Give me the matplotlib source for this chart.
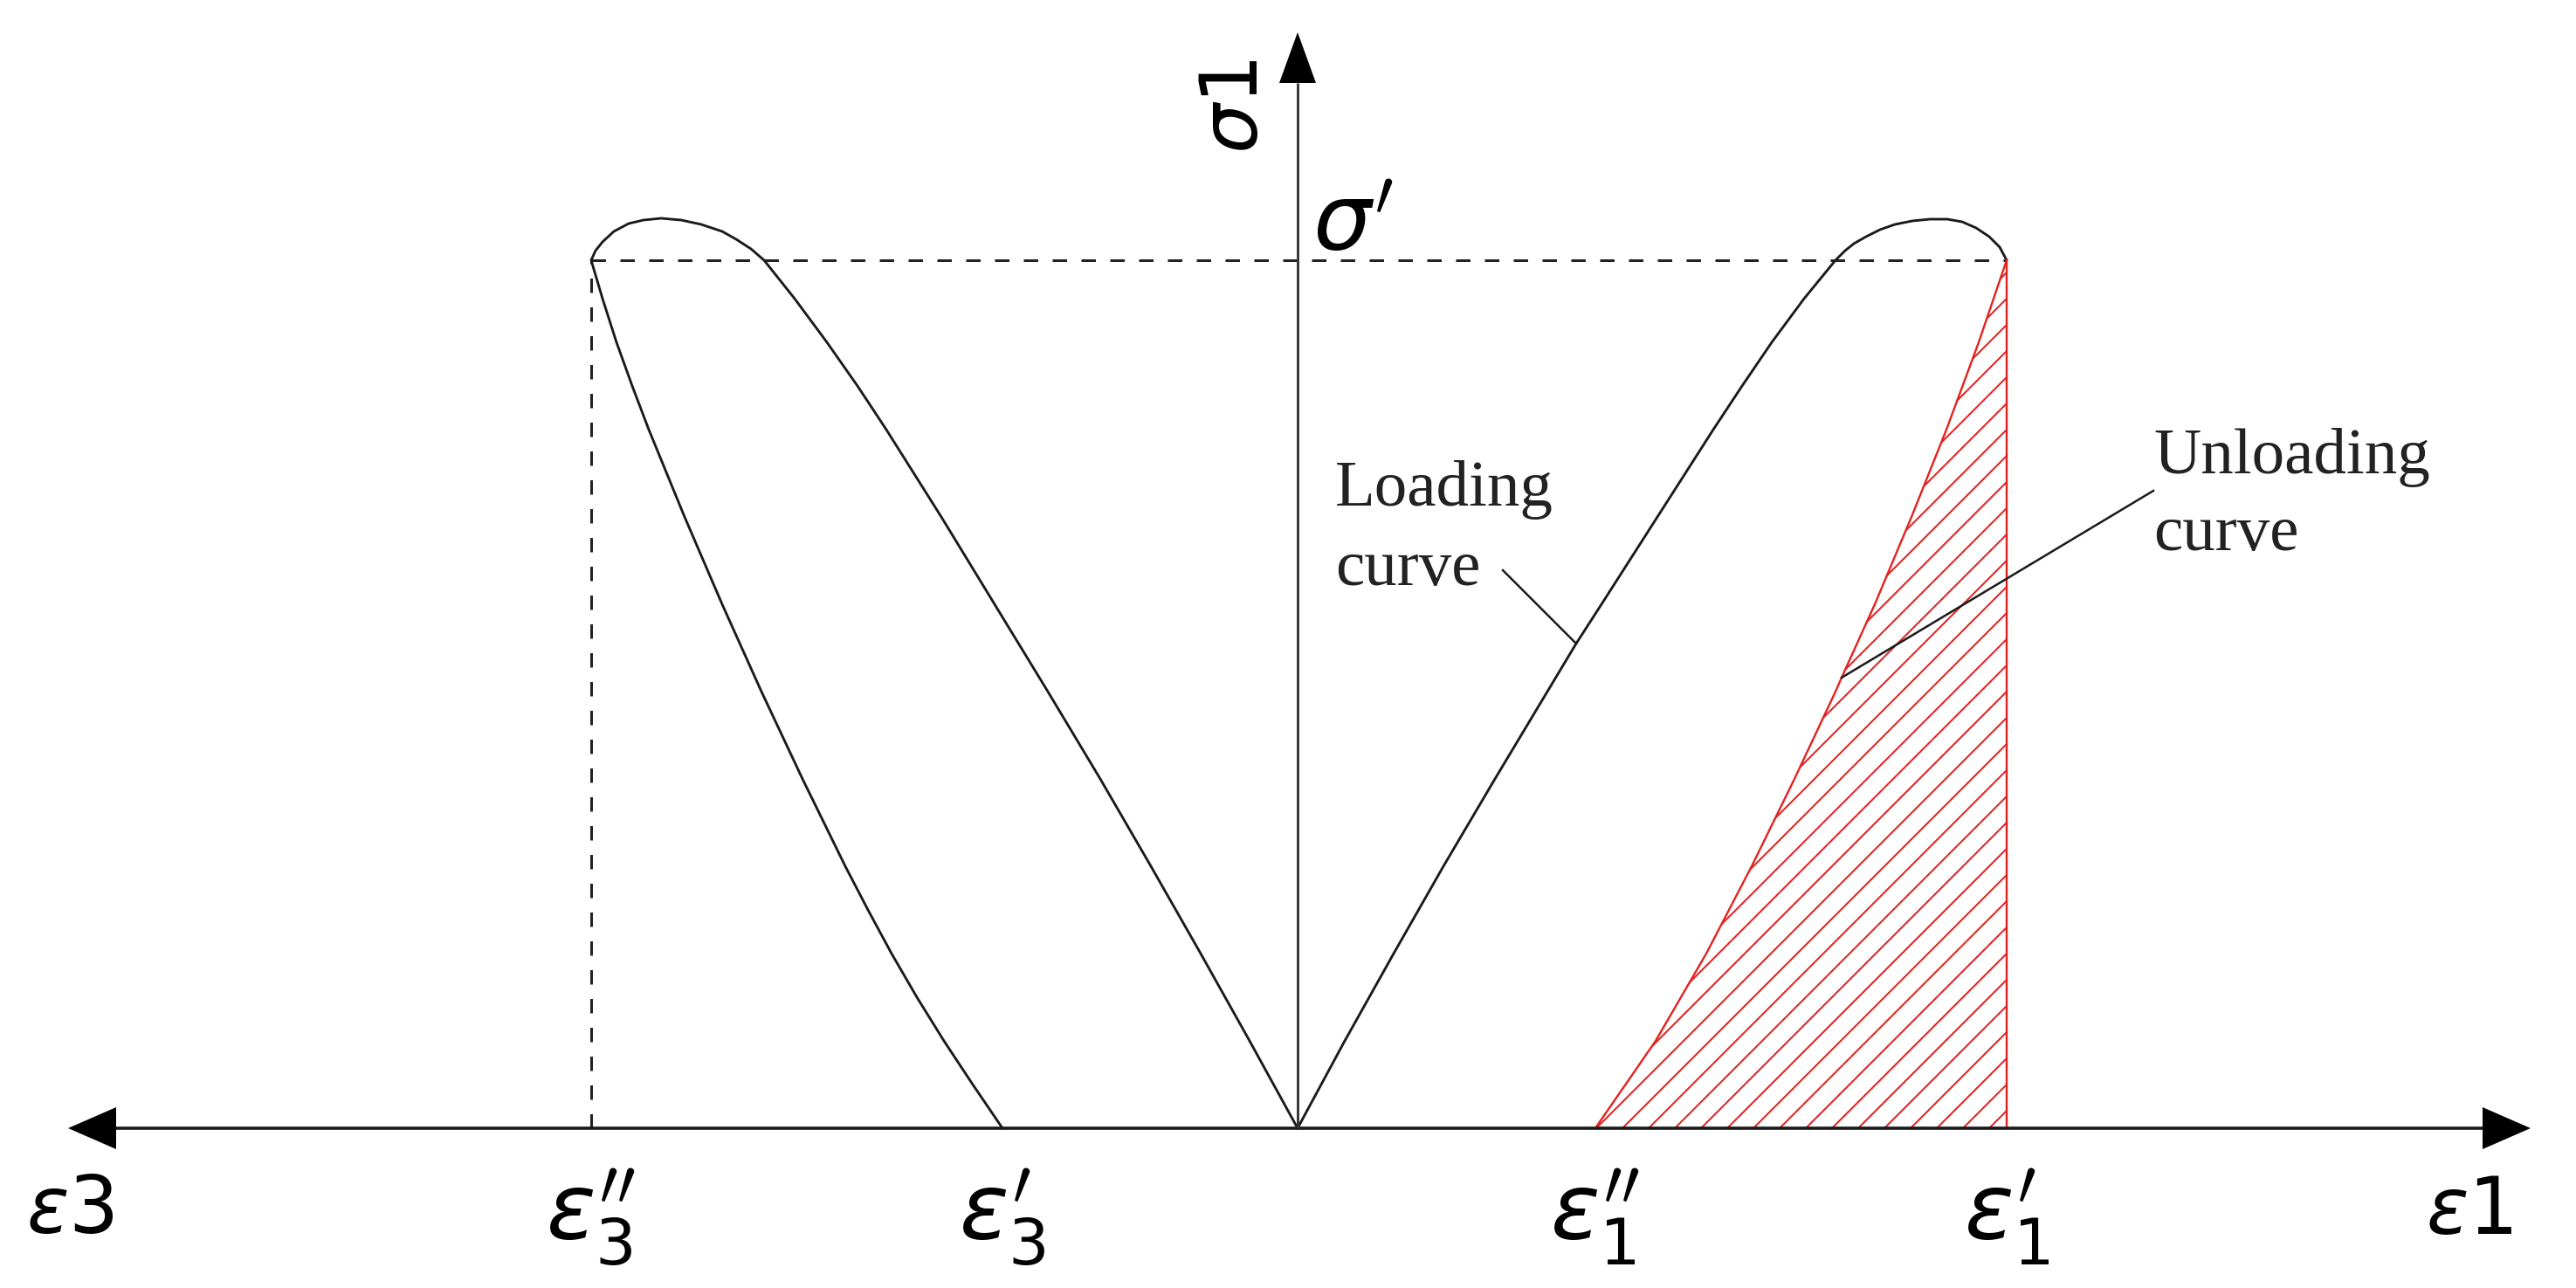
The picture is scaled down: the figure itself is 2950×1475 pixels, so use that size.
"""Schematic of loading / unloading stress-strain curves (sigma1 vs eps1, eps3)
with the hatched elastic-energy area under the unloading branch."""
import matplotlib
matplotlib.use('Agg')
import matplotlib.pyplot as plt

# Readings from the figure, origin at the crossing of the axes.
# x = strain (eps1 to the right, eps3 to the left), y = sigma1; 1 unit = 100 px.
SIGMA_P = 9.94     # sigma'
EPS1_P = 8.12      # eps1'
EPS1_PP = 3.41     # eps1''
EPS3_P = -3.38     # eps3'
EPS3_PP = -8.09    # eps3''

# eps1 side: loading curve from the origin, over the peak, down to (eps1', sigma')
LOAD1_X = [0.00, 0.54, 1.10, 1.67, 2.26, 2.86, 3.19, 3.48, 4.12, 4.76, 5.09,
           5.43, 5.80, 6.16, 6.27, 6.37, 6.51, 6.67, 6.84, 7.04, 7.24, 7.44,
           7.61, 7.77, 7.92, 8.04, 8.12]
LOAD1_Y = [0.00, 1.00, 2.00, 3.00, 4.00, 5.00, 5.55, 6.00, 7.00, 8.00, 8.50,
           9.00, 9.50, 9.94, 10.05, 10.13, 10.21, 10.29, 10.35, 10.39, 10.41,
           10.41, 10.38, 10.31, 10.21, 10.09, 9.94]

# eps1 side: unloading curve from (eps1', sigma') down to eps1''
UNLOAD1_X = [8.12, 7.80, 7.43, 7.03, 6.61, 6.23, 6.16, 5.69, 5.20, 4.68,
             4.10, 3.41]
UNLOAD1_Y = [9.94, 9.00, 8.00, 7.00, 6.00, 5.16, 5.00, 4.00, 3.00, 2.00,
             1.00, 0.00]

# eps3 side: loading from the origin, over the peak, then unloading to eps3'
LAT_X = [0.00, -0.55, -1.11, -1.68, -2.26, -2.86, -3.47, -4.08, -4.71, -5.04,
         -5.39, -5.76, -6.11, -6.26, -6.43, -6.59, -6.83, -7.06, -7.29, -7.49,
         -7.66, -7.83, -7.96, -8.04, -8.09, -7.96, -7.80, -7.62, -7.43, -7.02,
         -6.59, -6.14, -5.67, -5.18, -4.92, -4.65, -4.36, -4.05, -3.72, -3.38]
LAT_Y = [0.00, 1.00, 2.00, 3.00, 4.00, 5.00, 6.00, 7.00, 8.00, 8.50, 9.00,
         9.50, 9.94, 10.07, 10.18, 10.27, 10.35, 10.40, 10.42, 10.40, 10.36,
         10.27, 10.15, 10.05, 9.94, 9.50, 9.00, 8.50, 8.00, 7.00, 6.00, 5.00,
         4.00, 3.00, 2.50, 2.00, 1.50, 1.00, 0.50, 0.00]

TICK_POS = [EPS3_PP, EPS3_P, EPS1_PP, EPS1_P]
TICK_LABELS = [r"$\varepsilon_3''$", r"$\varepsilon_3'$",
               r"$\varepsilon_1''$", r"$\varepsilon_1'$"]

# Axis extents (arrow tips)
X_LEFT, X_RIGHT, Y_TOP = -14.08, 14.12, 12.55

RED = '#e3221f'
INK = '#1a1a1a'
DPI = 180


def draw_axes(ax):
    hl, hw = 0.55, 0.24
    ax.plot([X_LEFT + hl, X_RIGHT - hl], [0, 0], color=INK, lw=1.45,
            solid_capstyle='butt', zorder=4)
    ax.fill([X_LEFT, X_LEFT + hl, X_LEFT + hl], [0, hw, -hw], color='black',
            lw=0, zorder=5)
    ax.fill([X_RIGHT, X_RIGHT - hl, X_RIGHT - hl], [0, hw, -hw], color='black',
            lw=0, zorder=5)
    vl, vw = 0.58, 0.21
    ax.plot([0, 0], [0, Y_TOP - vl], color='#333333', lw=1.15,
            solid_capstyle='butt', zorder=4)
    ax.fill([0, -vw, vw], [Y_TOP, Y_TOP - vl, Y_TOP - vl], color='black',
            lw=0, zorder=5)
    # axis names
    ax.text(X_LEFT + 0.02, -1.20, r"$\varepsilon$3", fontsize=36, ha='center',
            va='baseline', color='black')
    ax.text(X_RIGHT - 0.70, -1.21, r"$\varepsilon$1", fontsize=36, ha='center',
            va='baseline', color='black')
    ax.text(-0.71, 11.70, r"$\sigma$1", fontsize=36, rotation=90,
            ha='center', va='center', color='black')
    ax.text(0.17, 10.05, r"$\sigma'$", fontsize=42, ha='left',
            va='baseline', color='black')
    for x, lab in zip(TICK_POS, TICK_LABELS):
        ax.text(x, -1.28, lab, fontsize=42, ha='center', va='baseline',
                color='black')


def draw_curves(ax):
    dash = dict(color='#222222', lw=1.2, dashes=(5.5, 5.5))
    ax.plot([EPS3_PP, EPS1_P], [SIGMA_P, SIGMA_P], **dash)
    ax.plot([EPS3_PP, EPS3_PP], [0, SIGMA_P], **dash)

    ax.plot(LOAD1_X, LOAD1_Y, color=INK, lw=1.15, zorder=3)
    ax.plot(LAT_X, LAT_Y, color=INK, lw=1.15, zorder=3)

    # hatched area under the unloading branch
    ax.fill_betweenx(UNLOAD1_Y, UNLOAD1_X, EPS1_P, facecolor='none',
                     edgecolor=RED, hatch='//', linewidth=0, zorder=2)
    ax.plot(UNLOAD1_X, UNLOAD1_Y, color=RED, lw=0.95, zorder=3)
    ax.plot([EPS1_P, EPS1_P], [0, SIGMA_P], color=RED, lw=0.95, zorder=3)


def draw_notes(ax):
    txt = dict(fontsize=30, family='Liberation Serif', color='#222222',
               ha='left', va='baseline')
    ax.text(0.43, 7.13, 'Loading', **txt)
    ax.text(0.43, 6.22, 'curve', **txt)
    ax.plot([2.35, LOAD1_X[6]], [6.39, LOAD1_Y[6]], color=INK, lw=1.0)

    ax.text(9.80, 7.50, 'Unloading', **txt)
    ax.text(9.80, 6.62, 'curve', **txt)
    ax.plot([9.80, UNLOAD1_X[5]], [7.30, UNLOAD1_Y[5]], color=INK, lw=1.0,
            zorder=4)


def main():
    plt.rcParams['hatch.linewidth'] = 0.8
    fig = plt.figure(figsize=(2950 / DPI, 1475 / DPI), dpi=DPI)
    ax = fig.add_axes([0, 0, 1, 1])
    ax.set_xlim(-14.86, 14.64)
    ax.set_ylim(-1.83, 12.92)
    ax.axis('off')
    draw_curves(ax)
    draw_axes(ax)
    draw_notes(ax)
    fig.savefig('out.png', dpi=DPI, facecolor='white')


if __name__ == '__main__':
    main()
